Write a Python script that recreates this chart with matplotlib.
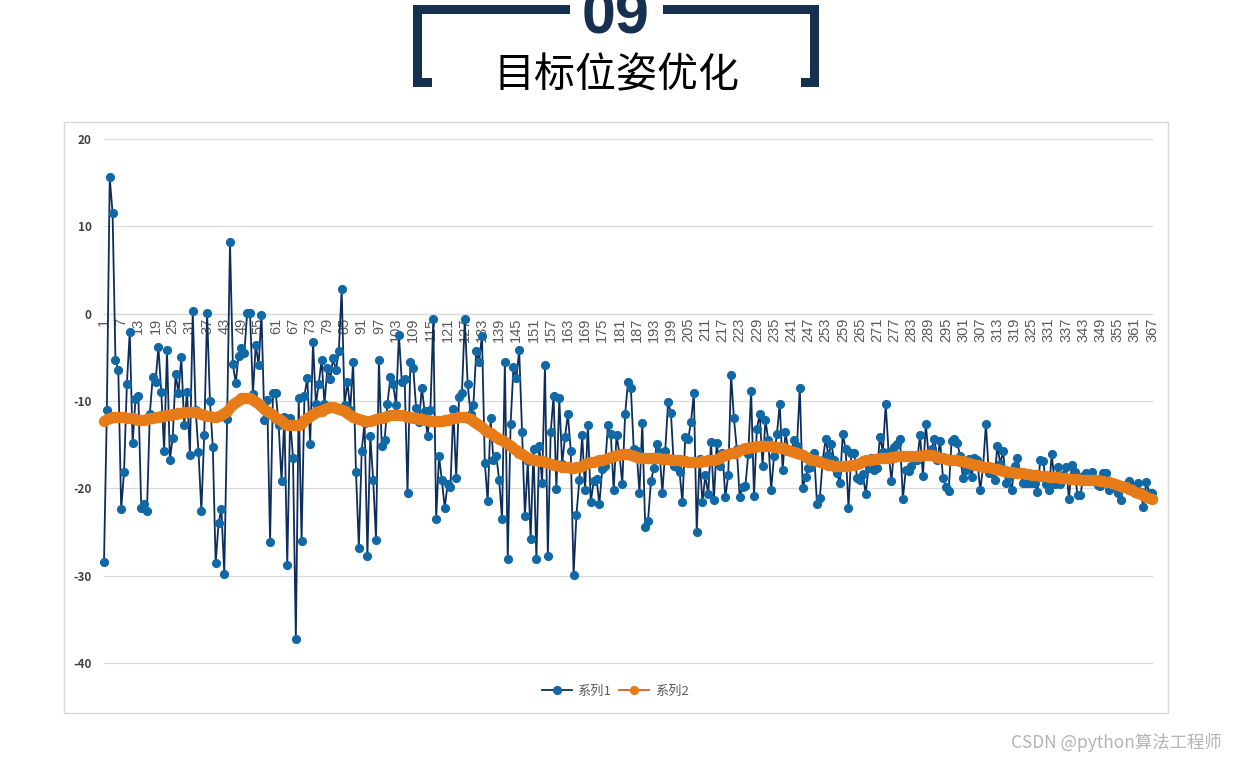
import matplotlib
matplotlib.use('Agg')
import matplotlib.pyplot as plt
from matplotlib.patches import Rectangle
from matplotlib.lines import Line2D

plt.rcParams['font.family'] = ['Noto Sans CJK SC', 'DejaVu Sans']

categories = list(range(1, 368))

series1 = [
    -28.4, -11.0, 15.6, 11.5, -5.3, -6.5, -22.4, -18.1, -8.0, -2.1,
    -14.8, -9.8, -9.4, -22.2, -21.8, -22.6, -11.5, -7.3, -7.8, -3.8,
    -9.0, -15.7, -4.2, -16.7, -14.2, -6.9, -9.1, -5.0, -12.7, -9.0,
    -16.2, 0.3, -11.0, -15.8, -22.6, -13.9, 0.1, -10.0, -15.3, -28.6,
    -24.0, -22.4, -29.8, -12.1, 8.2, -5.8, -7.9, -4.8, -3.9, -4.5,
    0.1, 0.1, -9.2, -3.6, -5.9, -0.1, -12.2, -9.9, -26.1, -9.1,
    -9.1, -12.8, -19.2, -11.8, -28.8, -12.0, -16.5, -37.3, -9.7, -26.0,
    -9.4, -7.4, -14.9, -3.2, -10.4, -8.0, -5.3, -10.4, -6.2, -7.5,
    -5.1, -6.5, -4.3, 2.8, -10.5, -7.8, -11.0, -5.5, -18.1, -26.8,
    -15.7, -12.5, -27.7, -14.0, -19.0, -25.9, -5.3, -15.2, -14.5, -10.3,
    -7.3, -8.1, -10.5, -2.4, -7.8, -7.5, -20.5, -5.5, -6.2, -10.8,
    -12.4, -8.5, -11.2, -14.0, -11.0, -0.6, -23.5, -16.3, -19.1, -22.2,
    -19.5, -19.8, -10.9, -18.8, -9.5, -9.1, -0.6, -8.0, -11.5, -10.5,
    -4.3, -5.5, -2.5, -17.1, -21.5, -12.0, -16.8, -16.3, -19.0, -23.5,
    -5.5, -28.1, -12.6, -6.1, -7.4, -4.2, -13.5, -23.2, -16.9, -25.8,
    -15.5, -28.1, -15.1, -19.4, -5.9, -27.7, -13.6, -9.4, -20.1, -9.7,
    -17.2, -14.1, -11.5, -15.7, -29.9, -23.0, -19.1, -13.9, -20.2, -12.7,
    -21.6, -19.2, -18.9, -21.8, -17.8, -17.4, -12.8, -13.8, -20.2, -13.9,
    -16.0, -19.5, -11.5, -7.8, -8.5, -15.5, -15.7, -20.5, -12.5, -24.4,
    -23.7, -19.2, -17.7, -14.9, -15.8, -20.5, -15.7, -10.1, -11.4, -17.4,
    -17.6, -18.1, -21.6, -14.1, -14.4, -12.4, -9.1, -25.0, -16.6, -21.6,
    -18.5, -20.7, -14.7, -21.3, -14.8, -17.4, -16.0, -21.0, -18.5, -7.0,
    -12.0, -15.5, -21.0, -19.8, -19.7, -16.1, -8.8, -20.9, -13.2, -11.5,
    -17.4, -12.2, -14.5, -20.2, -16.3, -13.8, -10.3, -17.9, -13.6, -15.7,
    -15.8, -14.5, -15.2, -8.5, -20.0, -18.7, -17.7, -17.5, -16.0, -21.8,
    -21.1, -16.8, -14.4, -16.2, -14.9, -16.8, -18.3, -19.4, -13.8, -15.5,
    -22.2, -16.0, -16.0, -18.8, -19.1, -18.4, -20.6, -17.7, -16.5, -17.9,
    -17.7, -14.1, -15.8, -10.4, -15.8, -19.2, -15.3, -14.9, -14.4, -21.2,
    -17.9, -18.0, -17.4, -16.8, -16.8, -13.9, -18.6, -12.6, -16.3, -15.5,
    -14.3, -16.8, -14.6, -18.8, -19.8, -20.3, -14.6, -14.4, -14.8, -16.3,
    -18.8, -17.9, -16.6, -18.7, -16.5, -16.8, -20.2, -17.6, -12.6, -18.3,
    -18.3, -19.0, -15.1, -17.2, -15.7, -19.4, -18.7, -20.2, -17.4, -16.5,
    -18.3, -19.4, -19.4, -19.4, -19.4, -19.4, -20.4, -16.7, -16.9, -19.5,
    -20.2, -16.1, -19.5, -17.6, -19.5, -18.5, -17.6, -21.2, -17.3, -18.1,
    -20.8, -20.8, -18.6, -18.3, -18.5, -18.1, -18.9, -19.6, -19.7, -18.2,
    -18.2, -20.2, -19.7, -19.8, -20.5, -21.3, -19.8, -19.6, -19.2, -19.7,
    -19.8, -19.4, -20.4, -22.1, -19.3, -20.5, -20.5,
]

series2 = [
    -12.3, -12.1, -11.9, -11.8, -11.8, -11.8, -11.8, -11.8, -11.9, -11.9,
    -12.0, -12.1, -12.2, -12.2, -12.2, -12.1, -12.0, -11.9, -11.8, -11.8,
    -11.7, -11.7, -11.6, -11.6, -11.5, -11.5, -11.4, -11.4, -11.3, -11.3,
    -11.3, -11.3, -11.3, -11.4, -11.5, -11.6, -11.7, -11.7, -11.8, -11.8,
    -11.7, -11.6, -11.4, -11.1, -10.7, -10.4, -10.1, -9.9, -9.7, -9.6,
    -9.6, -9.7, -9.9, -10.1, -10.4, -10.6, -10.9, -11.1, -11.4, -11.6,
    -11.9, -12.1, -12.3, -12.5, -12.7, -12.8, -12.8, -12.8, -12.7, -12.5,
    -12.2, -12.0, -11.7, -11.5, -11.3, -11.2, -11.1, -10.9, -10.8, -10.7,
    -10.7, -10.8, -10.9, -11.0, -11.2, -11.4, -11.6, -11.8, -12.0, -12.1,
    -12.2, -12.3, -12.3, -12.3, -12.2, -12.1, -12.0, -11.9, -11.8, -11.7,
    -11.6, -11.6, -11.6, -11.6, -11.6, -11.7, -11.8, -11.8, -11.9, -12.0,
    -12.1, -12.1, -12.2, -12.2, -12.3, -12.3, -12.3, -12.3, -12.3, -12.2,
    -12.2, -12.1, -12.0, -11.9, -11.8, -11.8, -11.8, -11.9, -12.1, -12.3,
    -12.5, -12.8, -13.0, -13.3, -13.5, -13.7, -13.9, -14.1, -14.3, -14.5,
    -14.7, -14.9, -15.1, -15.4, -15.6, -15.9, -16.1, -16.3, -16.5, -16.6,
    -16.7, -16.8, -16.9, -16.9, -17.0, -17.1, -17.2, -17.3, -17.3, -17.4,
    -17.5, -17.6, -17.6, -17.7, -17.7, -17.6, -17.5, -17.4, -17.2, -17.1,
    -17.0, -17.0, -16.9, -16.8, -16.7, -16.6, -16.5, -16.4, -16.3, -16.2,
    -16.2, -16.1, -16.1, -16.1, -16.2, -16.3, -16.4, -16.5, -16.5, -16.5,
    -16.5, -16.5, -16.5, -16.5, -16.5, -16.6, -16.6, -16.6, -16.7, -16.7,
    -16.8, -16.8, -16.9, -16.9, -17.0, -17.0, -17.0, -17.0, -17.0, -16.9,
    -16.9, -16.8, -16.7, -16.7, -16.6, -16.5, -16.3, -16.2, -16.1, -16.0,
    -15.9, -15.8, -15.6, -15.5, -15.4, -15.4, -15.3, -15.3, -15.2, -15.2,
    -15.2, -15.2, -15.2, -15.2, -15.3, -15.3, -15.4, -15.4, -15.5, -15.6,
    -15.7, -15.8, -15.9, -16.1, -16.2, -16.4, -16.5, -16.7, -16.8, -16.9,
    -17.0, -17.1, -17.2, -17.3, -17.3, -17.4, -17.4, -17.4, -17.4, -17.4,
    -17.4, -17.3, -17.3, -17.2, -17.1, -16.9, -16.8, -16.8, -16.7, -16.6,
    -16.6, -16.5, -16.5, -16.5, -16.5, -16.4, -16.4, -16.3, -16.3, -16.3,
    -16.3, -16.3, -16.3, -16.3, -16.3, -16.3, -16.2, -16.2, -16.2, -16.2,
    -16.3, -16.4, -16.5, -16.5, -16.6, -16.7, -16.7, -16.8, -16.8, -16.9,
    -16.9, -17.0, -17.1, -17.2, -17.3, -17.3, -17.4, -17.5, -17.6, -17.6,
    -17.7, -17.8, -17.8, -17.9, -18.0, -18.0, -18.1, -18.1, -18.2, -18.3,
    -18.3, -18.3, -18.4, -18.4, -18.5, -18.5, -18.5, -18.6, -18.6, -18.6,
    -18.7, -18.7, -18.7, -18.7, -18.8, -18.8, -18.8, -18.9, -18.9, -18.9,
    -18.9, -19.0, -19.0, -19.0, -19.0, -19.1, -19.1, -19.1, -19.2, -19.2,
    -19.3, -19.3, -19.4, -19.5, -19.6, -19.7, -19.8, -19.9, -20.1, -20.2,
    -20.4, -20.5, -20.7, -20.8, -21.0, -21.1, -21.2,
]

xtick_values = categories[::6]
xtick_labels = [str(c) for c in xtick_values]
ytick_values = [20, 10, 0, -10, -20, -30, -40]
ytick_labels = [str(v) for v in ytick_values]
legend_labels = ['系列1', '系列2']
title_number = '09'
title_text = '目标位姿优化'
watermark = 'CSDN @python算法工程师'

W, H = 1238, 762
fig = plt.figure(figsize=(W / 100, H / 100), dpi=100)
fig.patch.set_facecolor('white')


def fx(x):
    return x / W


def fy(y):
    return 1 - y / H


NAVY = '#16304f'

# title brackets
for (x0, y0, x1, y1) in [
    (413, 5, 570, 14), (413, 5, 422, 87), (413, 78, 432, 87),
    (663, 5, 819, 14), (810, 5, 819, 87), (801, 78, 819, 87),
]:
    fig.patches.append(Rectangle((fx(x0), fy(y1)), fx(x1) - fx(x0), fy(y0) - fy(y1),
                                 transform=fig.transFigure, facecolor=NAVY,
                                 edgecolor='none', zorder=5))

fig.text(fx(616), fy(34), title_number, ha='center', va='baseline',
         fontsize=44, fontweight='bold', color=NAVY, family='Liberation Sans')
fig.text(fx(617), fy(76), title_text, ha='center', va='center',
         fontsize=29.5, color='black')

# chart frame
fig.patches.append(Rectangle((fx(64), fy(713)), fx(1168) - fx(64), fy(122) - fy(713),
                             transform=fig.transFigure, facecolor='none',
                             edgecolor='#d9d9d9', linewidth=1, zorder=0))

ax = fig.add_axes([fx(104), fy(663), fx(1152) - fx(104), fy(139) - fy(663)])
ax.set_xlim(categories[0], categories[-1])
ax.set_ylim(-40, 20)

ax.plot(categories, series1, color='#0d2d5a', linewidth=1.3, marker='o',
        markersize=5.6, markerfacecolor='#1069a6', markeredgecolor='#1069a6',
        zorder=3, label=legend_labels[0], clip_on=False)
ax.plot(categories, series2, color='#e2581e', linewidth=1.3, marker='o',
        markersize=7.2, markerfacecolor='#e67b17', markeredgecolor='#e67b17',
        zorder=4, label=legend_labels[1], clip_on=False)

ax.set_yticks(ytick_values)
ax.set_yticklabels(ytick_labels)
ax.set_xticks(xtick_values)
ax.set_xticklabels(xtick_labels)
ax.grid(axis='y', color='#d9d9d9', linewidth=0.9)
for gl in ax.get_ygridlines():
    gl.set_clip_on(False)
ax.set_axisbelow(True)
for s in ['top', 'right', 'left']:
    ax.spines[s].set_visible(False)
ax.spines['bottom'].set_position(('data', 0))
ax.spines['bottom'].set_color('#d9d9d9')
ax.spines['bottom'].set_linewidth(0.9)
ax.tick_params(axis='x', length=0, pad=3, labelsize=10.5, labelcolor='#595959',
               labelrotation=90)
ax.tick_params(axis='y', length=0, pad=9, labelsize=8.5, labelcolor='#404040')
for lab in ax.get_yticklabels():
    lab.set_fontweight('bold')
for lab in ax.get_xticklabels():
    lab.set_verticalalignment('top')
    lab.set_horizontalalignment('center')
    lab.set_family(['Liberation Sans', 'DejaVu Sans'])

handles = [
    Line2D([], [], color='#0d2d5a', linewidth=1.3, marker='o', markersize=5.6,
           markerfacecolor='#1069a6', markeredgecolor='#1069a6'),
    Line2D([], [], color='#e2581e', linewidth=1.3, marker='o', markersize=5.6,
           markerfacecolor='#e67b17', markeredgecolor='#e67b17'),
]
fig.legend(handles, legend_labels, loc='center', ncol=2,
           bbox_to_anchor=(fx(615), fy(691)), frameon=False, fontsize=9.5,
           labelcolor='#595959', handlelength=2.3, columnspacing=0.6,
           handletextpad=0.4)

fig.text(fx(1222), fy(742), watermark, ha='right', va='center',
         fontsize=12.5, color='#b3b3b3')

fig.savefig('out.png', dpi=100)
